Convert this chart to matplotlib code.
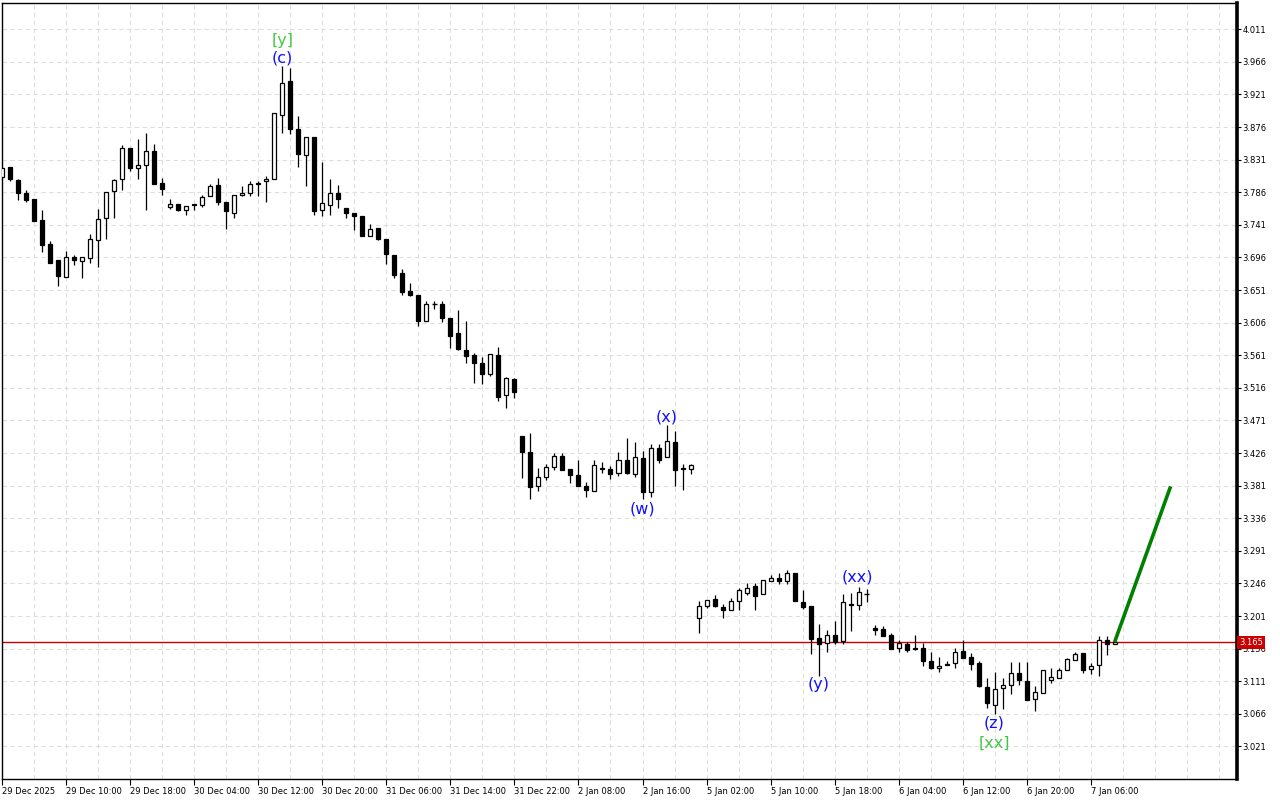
import numpy as np
import matplotlib.pyplot as plt
from matplotlib.transforms import blended_transform_factory

# H1 candles (bar index 0 = 29 Dec 2025 02:00)
opens = [3.807, 3.821, 3.803, 3.785, 3.777, 3.748, 3.715, 3.692, 3.669, 3.697,
         3.691, 3.695, 3.720, 3.750, 3.788, 3.804, 3.847, 3.819, 3.824, 3.843,
         3.799, 3.766, 3.770, 3.761, 3.770, 3.768, 3.781, 3.796, 3.772, 3.758,
         3.782, 3.785, 3.799, 3.801, 3.804, 3.893, 3.939, 3.873, 3.838, 3.862,
         3.762, 3.769, 3.785, 3.764, 3.757, 3.753, 3.726, 3.737, 3.721, 3.700,
         3.674, 3.650, 3.644, 3.609, 3.632, 3.632, 3.613, 3.592, 3.568, 3.561,
         3.550, 3.535, 3.562, 3.506, 3.528, 3.450, 3.428, 3.380, 3.393, 3.407,
         3.422, 3.404, 3.396, 3.381, 3.374, 3.406, 3.404, 3.398, 3.417, 3.397,
         3.419, 3.372, 3.433, 3.420, 3.441, 3.405, 3.404, 3.199, 3.215, 3.224,
         3.213, 3.210, 3.222, 3.233, 3.242, 3.231, 3.250, 3.253, 3.249, 3.260,
         3.221, 3.215, 3.171, 3.164, 3.175, 3.166, 3.218, 3.216, 3.232, 3.185,
         3.183, 3.175, 3.157, 3.163, 3.157, 3.157, 3.139, 3.129, 3.135, 3.136,
         3.153, 3.144, 3.136, 3.103, 3.078, 3.102, 3.106, 3.122, 3.111, 3.087,
         3.095, 3.113, 3.116, 3.127, 3.140, 3.150, 3.128, 3.133, 3.168, 3.162]
highs = [3.821, 3.821, 3.804, 3.789, 3.777, 3.761, 3.719, 3.692, 3.705, 3.700,
         3.697, 3.729, 3.763, 3.787, 3.805, 3.851, 3.847, 3.860, 3.868, 3.853,
         3.806, 3.777, 3.770, 3.767, 3.770, 3.782, 3.797, 3.806, 3.773, 3.782,
         3.795, 3.801, 3.802, 3.809, 3.896, 3.960, 3.958, 3.891, 3.862, 3.862,
         3.828, 3.804, 3.796, 3.765, 3.757, 3.753, 3.742, 3.737, 3.721, 3.700,
         3.680, 3.661, 3.644, 3.636, 3.636, 3.636, 3.613, 3.623, 3.608, 3.564,
         3.559, 3.563, 3.572, 3.531, 3.529, 3.450, 3.454, 3.405, 3.411, 3.426,
         3.426, 3.404, 3.417, 3.386, 3.416, 3.414, 3.408, 3.428, 3.447, 3.441,
         3.429, 3.439, 3.438, 3.465, 3.457, 3.411, 3.411, 3.222, 3.223, 3.230,
         3.218, 3.226, 3.240, 3.247, 3.247, 3.251, 3.258, 3.261, 3.264, 3.261,
         3.237, 3.215, 3.190, 3.182, 3.194, 3.232, 3.233, 3.241, 3.239, 3.189,
         3.187, 3.178, 3.168, 3.165, 3.175, 3.164, 3.152, 3.145, 3.139, 3.157,
         3.168, 3.150, 3.139, 3.116, 3.124, 3.116, 3.138, 3.137, 3.137, 3.104,
         3.127, 3.129, 3.129, 3.143, 3.151, 3.150, 3.136, 3.174, 3.173, 3.171]
lows = [3.806, 3.801, 3.775, 3.772, 3.747, 3.703, 3.689, 3.657, 3.669, 3.686,
        3.667, 3.689, 3.683, 3.721, 3.751, 3.789, 3.815, 3.805, 3.762, 3.798,
        3.782, 3.763, 3.760, 3.755, 3.762, 3.766, 3.781, 3.769, 3.736, 3.751,
        3.781, 3.781, 3.781, 3.773, 3.804, 3.868, 3.867, 3.821, 3.794, 3.754,
        3.753, 3.754, 3.765, 3.750, 3.734, 3.726, 3.726, 3.720, 3.687, 3.668,
        3.644, 3.643, 3.601, 3.609, 3.625, 3.607, 3.571, 3.568, 3.551, 3.523,
        3.521, 3.532, 3.498, 3.488, 3.502, 3.392, 3.363, 3.374, 3.389, 3.403,
        3.402, 3.385, 3.380, 3.366, 3.373, 3.399, 3.390, 3.395, 3.397, 3.393,
        3.362, 3.366, 3.412, 3.420, 3.380, 3.375, 3.397, 3.178, 3.212, 3.214,
        3.199, 3.210, 3.210, 3.230, 3.209, 3.231, 3.249, 3.245, 3.245, 3.222,
        3.211, 3.148, 3.118, 3.152, 3.163, 3.163, 3.181, 3.210, 3.221, 3.175,
        3.173, 3.156, 3.152, 3.152, 3.154, 3.132, 3.128, 3.124, 3.133, 3.130,
        3.143, 3.127, 3.103, 3.074, 3.066, 3.073, 3.093, 3.106, 3.085, 3.070,
        3.095, 3.108, 3.115, 3.127, 3.140, 3.122, 3.121, 3.118, 3.147, 3.162]
closes = [3.820, 3.804, 3.785, 3.776, 3.747, 3.713, 3.689, 3.670, 3.697, 3.692,
          3.697, 3.722, 3.749, 3.787, 3.803, 3.847, 3.820, 3.824, 3.843, 3.798,
          3.790, 3.770, 3.761, 3.767, 3.768, 3.780, 3.795, 3.772, 3.760, 3.782,
          3.785, 3.797, 3.797, 3.805, 3.895, 3.937, 3.873, 3.839, 3.862, 3.760,
          3.771, 3.785, 3.777, 3.757, 3.753, 3.726, 3.736, 3.721, 3.701, 3.672,
          3.649, 3.644, 3.609, 3.632, 3.632, 3.612, 3.587, 3.569, 3.560, 3.551,
          3.535, 3.563, 3.504, 3.529, 3.510, 3.428, 3.379, 3.393, 3.407, 3.422,
          3.403, 3.396, 3.380, 3.375, 3.409, 3.404, 3.397, 3.416, 3.398, 3.420,
          3.372, 3.433, 3.417, 3.442, 3.403, 3.404, 3.409, 3.215, 3.223, 3.215,
          3.210, 3.222, 3.237, 3.240, 3.229, 3.251, 3.254, 3.249, 3.261, 3.222,
          3.214, 3.169, 3.163, 3.175, 3.165, 3.220, 3.216, 3.234, 3.232, 3.182,
          3.174, 3.156, 3.164, 3.154, 3.155, 3.139, 3.130, 3.132, 3.134, 3.151,
          3.143, 3.135, 3.104, 3.081, 3.101, 3.106, 3.122, 3.113, 3.085, 3.096,
          3.127, 3.117, 3.126, 3.142, 3.149, 3.127, 3.132, 3.168, 3.162, 3.165]

# time axis labels every 8 bars
time_labels = ["29 Dec 2025", "29 Dec 10:00", "29 Dec 18:00", "30 Dec 04:00",
               "30 Dec 12:00", "30 Dec 20:00", "31 Dec 06:00", "31 Dec 14:00",
               "31 Dec 22:00", "2 Jan 08:00", "2 Jan 16:00", "5 Jan 02:00",
               "5 Jan 10:00", "5 Jan 18:00", "6 Jan 04:00", "6 Jan 12:00",
               "6 Jan 20:00", "7 Jan 06:00"]

price_ticks = [4.011, 3.966, 3.921, 3.876, 3.831, 3.786, 3.741, 3.696, 3.651,
               3.606, 3.561, 3.516, 3.471, 3.426, 3.381, 3.336, 3.291, 3.246,
               3.201, 3.156, 3.111, 3.066, 3.021]

current_price = 3.165
forecast_x = [139, 146]
forecast_y = [3.165, 3.380]

BLUE = "#1010ff"
LGREEN = "#44c844"
wave_text = ["[y]", "(c)", "(x)", "(w)", "(xx)", "(y)", "(z)", "[xx]"]
wave_x = [35, 35, 83, 80, 106.8, 102, 124, 124]
wave_y = [3.996, 3.971, 3.476, 3.349, 3.255, 3.106, 3.053, 3.026]
wave_col = [LGREEN, BLUE, BLUE, BLUE, BLUE, BLUE, BLUE, LGREEN]

#------------------------
fig = plt.figure(figsize=(12.8, 8), dpi=100)
ax = fig.add_axes([2 / 1280, 21 / 800, 1235 / 1280, 776 / 800])

n = len(opens)
xs = np.arange(n)
o = np.array(opens)
c = np.array(closes)

#wicks
ax.vlines(xs, lows, highs, color="black", lw=0.9, zorder=3)

#bodies
body_w = 0.5
for i in range(n):
    lo = min(o[i], c[i])
    hgt = abs(c[i] - o[i])
    if hgt < 0.0008:
        ax.hlines(o[i], i - body_w / 2 - 0.05, i + body_w / 2 + 0.05,
                  color="black", lw=1.0, zorder=4)
        continue
    face = "white" if c[i] > o[i] else "black"
    ax.bar(i, hgt, bottom=lo, width=body_w, facecolor=face,
           edgecolor="black", lw=0.9, zorder=4)

#current price line
ax.axhline(current_price, color="#cc0000", lw=1.0, zorder=2)

#forecast
ax.plot(forecast_x, forecast_y, color="#008000", lw=2.6, zorder=5,
        solid_capstyle="butt")

#wave labels
for t, x, y, col in zip(wave_text, wave_x, wave_y, wave_col):
    ax.text(x, y, t, color=col, fontsize=11.5, ha="center", va="center", zorder=6)

#axes
ax.set_xlim(-0.05, 154.3)
ax.set_ylim(2.9761, 4.0473)

ax.set_xticks(np.arange(0, n, 8))
ax.set_xticklabels(time_labels, ha="left", fontsize=6)
ax.set_xticks(np.arange(0, 155, 4), minor=True)
ax.tick_params(axis="x", which="major", direction="out", length=4, width=0.8,
               pad=1.5)
ax.tick_params(axis="x", which="minor", length=0)

ax.yaxis.tick_right()
ax.set_yticks(price_ticks)
ax.set_yticklabels([f"{p:.3f}" for p in price_ticks], fontsize=6)
ax.tick_params(axis="y", direction="out", length=3, width=0.8, pad=1)

grid_kw = dict(color="#dedede", lw=0.8, linestyle=(0, (4, 3)), zorder=0)
ax.grid(True, which="minor", axis="x", **grid_kw)
ax.grid(True, which="major", axis="x", **grid_kw)
ax.grid(True, which="major", axis="y", **grid_kw)
ax.set_axisbelow(True)

for s in ["left", "top", "bottom"]:
    ax.spines[s].set_linewidth(1.0)
ax.spines["right"].set_linewidth(2.6)

#price tag on the axis
trans = blended_transform_factory(ax.transAxes, ax.transData)
ax.text(1.0018, current_price, f"{current_price:.3f}", transform=trans,
        color="white", fontsize=6, ha="left", va="center", zorder=10,
        bbox=dict(facecolor="#cc0000", edgecolor="none",
                  boxstyle="square,pad=0.25"))

fig.savefig("out.png", dpi=100)
